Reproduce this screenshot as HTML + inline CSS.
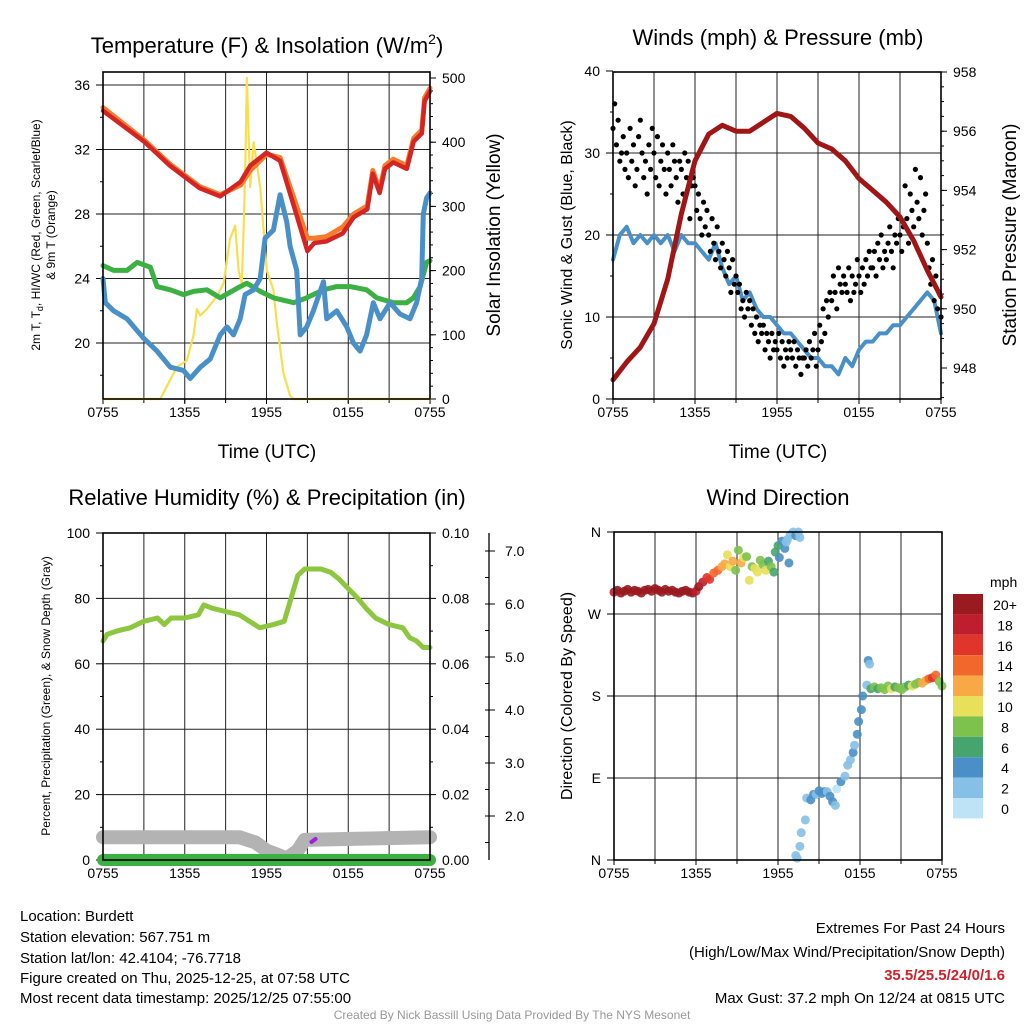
<!DOCTYPE html>
<html><head><meta charset="utf-8"><style>
html,body{margin:0;padding:0;background:#fff;}
svg{display:block;font-family:"Liberation Sans",Arial,sans-serif;}
</style></head><body>
<svg id="chart" xmlns="http://www.w3.org/2000/svg" width="1024" height="1024" viewBox="0 0 1024 1024">
<rect x="0" y="0" width="1024" height="1024" fill="#fff"/>
<text x="267" y="53" font-size="22" text-anchor="middle">Temperature (F) &amp; Insolation (W/m<tspan font-size="14" dy="-9">2</tspan><tspan dy="9">)</tspan></text>
<text x="778" y="45" font-size="22" text-anchor="middle">Winds (mph) &amp; Pressure (mb)</text>
<text x="267" y="505" font-size="22" text-anchor="middle">Relative Humidity (%) &amp; Precipitation (in)</text>
<text x="778" y="505" font-size="22" text-anchor="middle">Wind Direction</text>

<text transform="translate(40,235) rotate(-90)" font-size="12" text-anchor="middle">2m T, T<tspan font-size="9" dy="3">d</tspan><tspan dy="-3">, HI/WC (Red, Green, Scarlet/Blue)</tspan></text>
<text transform="translate(55,235) rotate(-90)" font-size="12" text-anchor="middle">&amp; 9m T (Orange)</text>
<text transform="translate(500,235) rotate(-90)" font-size="19" text-anchor="middle">Solar Insolation (Yellow)</text>
<text transform="translate(572,235) rotate(-90)" font-size="16" text-anchor="middle">Sonic Wind &amp; Gust (Blue, Black)</text>
<text transform="translate(1016,235) rotate(-90)" font-size="19" text-anchor="middle">Station Pressure (Maroon)</text>
<text transform="translate(50,696) rotate(-90)" font-size="12" text-anchor="middle">Percent, Precipitation (Green), &amp; Snow Depth (Gray)</text>
<text transform="translate(572,696) rotate(-90)" font-size="16" text-anchor="middle">Direction (Colored By Speed)</text>

<text x="267" y="458" font-size="19" text-anchor="middle">Time (UTC)</text>
<text x="778" y="458" font-size="19" text-anchor="middle">Time (UTC)</text>

<g font-size="15">
<text x="20" y="921">Location: Burdett</text>
<text x="20" y="942">Station elevation: 567.751 m</text>
<text x="20" y="963">Station lat/lon: 42.4104; -76.7718</text>
<text x="20" y="983">Figure created on Thu, 2025-12-25, at 07:58 UTC</text>
<text x="20" y="1003">Most recent data timestamp: 2025/12/25 07:55:00</text>
</g>
<g font-size="15" text-anchor="end">
<text x="1005" y="933">Extremes For Past 24 Hours</text>
<text x="1005" y="957">(High/Low/Max Wind/Precipitation/Snow Depth)</text>
<text x="1005" y="980" fill="#d0202a" font-weight="bold">35.5/25.5/24/0/1.6</text>
<text x="1005" y="1003">Max Gust: 37.2 mph On 12/24 at 0815 UTC</text>
</g>
<text x="512" y="1019" font-size="12" fill="#999" text-anchor="middle">Created By Nick Bassill Using Data Provided By The NYS Mesonet</text>
<g id="plots"></g>
</svg>
<script>
// ---------- data ----------
const xTickHours = [0, 6, 12, 18, 24];
const xTickLabels = ['0755', '1355', '1955', '0155', '0755'];

const tempHours = [0,3,4.9,7.1,8.6,10.1,10.8,12,13,14,15,15.5,16.4,17.6,18.4,19.4,19.8,20.3,20.7,21.3,22.3,22.8,23.4,23.6,24];
const tempRed = [34.4,32.5,31.0,29.6,29.1,30.0,31.0,31.8,31.3,28.5,25.7,26.2,26.3,26.8,27.8,28.3,30.5,29.3,30.8,31.2,30.8,32.5,33.0,35.0,35.6];
const tempOrange = [34.6,32.6,31.1,29.7,29.2,29.8,30.7,31.7,31.5,29.0,26.5,26.5,26.6,27.2,28.0,28.5,30.7,29.5,31.0,31.4,31.0,32.7,33.2,35.2,35.8];
const blueHours = [0,0.17,0.78,1.76,2.98,3.96,4.94,5.91,6.4,7.14,7.87,8.6,9.09,9.58,10.07,10.43,11.05,11.54,11.9,12.51,13,13.49,13.73,14.22,14.47,14.95,15.44,16.18,16.42,17.16,17.89,18.38,18.87,19.35,19.84,20.33,21.07,21.8,22.53,23.02,23.39,23.51,23.75,24];
const tempBlue = [24,22.5,22.0,21.5,20.3,19.5,18.5,18.3,17.8,18.5,19.0,20.5,21.0,20.5,21.5,23.0,23.3,24.0,26.5,27.0,29.2,27.5,26.0,24.5,20.5,21.0,22.0,23.8,21.5,22.0,21.0,20.0,19.5,20.5,22.5,21.5,22.5,21.8,21.5,22.5,24.0,28.0,29.0,29.3];
const greenHours = [0,0.78,1.76,2.5,3.47,3.96,4.94,5.91,6.65,7.62,8.6,10.07,10.56,11.54,12.51,14,14.95,16.18,17.16,18.14,19.35,20.09,21.3,22.29,22.78,23.27,23.75,24];
const tempGreen = [24.8,24.5,24.5,25.0,24.7,23.5,23.3,23.0,23.2,23.3,22.8,23.5,23.7,23.2,22.8,22.5,22.8,23.3,23.5,23.5,23.3,22.8,22.5,22.5,22.8,23.5,25.0,25.1];
const solarHours = [0,4.2,4.94,5.43,6.16,6.65,6.89,7.14,7.62,8.36,8.85,9.33,9.7,9.95,10.19,10.31,10.43,10.56,10.8,11.05,11.54,12.02,12.51,12.75,13.24,13.73,13.98,24];
const solarVals = [0,0,30,50,60,100,140,130,140,160,180,250,270,200,180,260,350,500,330,400,330,200,170,120,40,5,0,0];

const windHalfHourly = [17,20,21,19,20,19,20,19,20,18,20,19,19,18,17,19,16,14,15,12,13,11,10,10,9,8,8,7,6,5,5,4,4,3,5,4,6,7,7,8,8,9,9,10,11,12,13,12,8];
const gustEighthHourly = [33,36,31,34,29,30,32,28, 30,27,33,29,31,26,28,32, 34,30,27,29,25,31,28,33, 30,27,32,26,29,31,28,25,
 30,28,26,31,29,27,24,29, 28,25,30,27,29,22,26,27, 26,23,25,22,20,24,21,23, 20,18,22,19,17,21,18,16,
 19,17,15,18,16,13,17,14, 15,13,14,11,12,10,13,11, 12,9,11,8,10,7,9,8, 9,6,8,7,5,8,6,7,
 6,8,5,7,4,6,5,7, 6,5,7,4,6,5,3,5, 5,6,4,7,5,6,8,4, 6,9,7,11,8,12,10,13,
 12,15,13,11,16,14,13,15, 14,13,16,12,15,13,14,17, 15,13,16,14,17,15,18,16, 16,18,15,19,17,20,16,18,
 17,19,21,18,16,20,19,22, 20,18,21,26,22,19,25,23, 21,28,24,22,27,20,23,25, 19,16,14,17,12,15,11,13,10];
const pressHourly = [947.6,948.2,948.7,949.5,951.0,953.2,955.0,955.9,956.2,956.0,956.0,956.3,956.6,956.5,956.1,955.6,955.4,955.0,954.4,954.0,953.6,953.1,952.3,951.3,950.4];

const rhHours = [0,0.3,1,2,3,4,4.5,5,6,7,7.4,8,9,10,11.5,12.5,13.3,13.8,14.3,14.8,16,16.7,17.3,18,18.7,19.3,20,21,22,22.5,23,23.5,24];
const rhVals = [67,69,70,71,73,74,72,74,74,75,78,77,76,75,71,72,73,80,87,89,89,88,86,83,80,77,74,72,71,68,67,65,65];
const precipHours = [0,24];
const precipVals = [0,0];
const snowHours = [0,10,11.2,12,13,13.5,14.3,14.8,24];
const snowVals = [1.6,1.6,1.5,1.35,1.25,1.2,1.35,1.55,1.6];

const dirHours = [0,0.25,0.5,0.75,1,1.25,1.5,1.75,2,2.25,2.5,2.75,3,3.25,3.5,3.75,4,4.25,4.5,4.75,5,5.25,5.5,5.75,6,
 6.2,6.5,6.8,7.0,7.3,7.6,7.9,8.1,
 8.3,8.5,8.7,8.9,9.1,9.3,9.5,9.7,9.9,10.1,10.3,10.5,10.7,10.9,11.1,11.3,11.5,11.7,
 11.8,12.0,12.1,12.3,12.5,12.6,12.8,
 12.7,12.9,13.1,13.3,13.5,13.6,
 13.3,13.4,13.6,13.7,14.0,
 14.1,14.4,14.6,14.8,15.0,15.2,15.4,15.6,15.8,16.0,16.2,16.3,
 16.6,16.9,17.1,17.3,17.5,17.6,17.8,17.9,18.1,18.2,18.5,18.6,18.7,
 18.8,19.05,19.3,19.55,19.8,20.05,20.3,20.55,20.8,21.05,21.3,21.55,21.8,22.05,22.3,22.55,22.8,23.05,23.3,23.55,23.8,24];
const dirDeg = [294,296,293,295,297,294,296,295,293,296,297,295,298,296,294,297,295,296,294,293,295,296,294,293,295,
 300,305,310,308,315,318,322,325,
 335,322,328,318,340,326,332,333,307,322,320,316,329,324,318,328,322,316,
 338,345,332,350,342,349,326,
 352,357,360,356,360,354,
 5,2,15,30,44,
 68,66,72,72,76,73,75,75,70,64,60,78,
 86,92,104,110,118,126,138,152,165,180,192,219,215,
 188,190,188,189,187,191,188,190,189,187,190,192,191,193,195,194,197,199,200,203,196,191];
const dirSpeed = [19,21,20,22,21,20,21,22,20,21,20,21,22,21,20,21,20,22,21,20,21,20,21,20,19,
 20,18,17,16,15,14,13,12,
 11,10,12,9,8,12,10,9,10,8,11,10,8,9,10,7,8,7,
 6,6,5,4,4,3,4,
 3,2,3,4,3,2,
 2,2,2,2,2,
 3,4,4,3,4,5,4,3,4,4,3,1,
 4,3,2,3,4,2,4,4,4,4,3,4,3,
 6,8,7,8,9,8,10,7,8,9,8,7,10,8,9,12,13,15,17,14,8,8];
const speedLabels = ['0','2','4','6','8','10','12','14','16','18','20+'];
const speedColors = ['#bfe3f6','#86c0e6','#4a8fc7','#46a56e','#7dc24d','#e8e05a','#f8a845','#f2672b','#e0352a','#be1e2d','#991a1f'];

// ---------- drawing ----------
const NS = 'http://www.w3.org/2000/svg';
const root = document.getElementById('plots');
function mk(tag, parent) { const e = document.createElementNS(NS, tag); parent.appendChild(e); return e; }
function set(e, o) { for (const k in o) e.setAttribute(k, o[k]); return e; }
function lin(a0, a1, p0, p1) { return v => p0 + (v - a0) / (a1 - a0) * (p1 - p0); }
function pathD(xs, ys, fx, fy) { return xs.map((h, i) => (i ? 'L' : 'M') + fx(h).toFixed(1) + ',' + fy(ys[i]).toFixed(1)).join(''); }

function drawFrame(g, L, R, T, B, fx, leftTicks, leftLabels, fyL, rightTicks, rightLabels, fyR, minorL, minorR) {
  for (let h = 3; h < 24; h += 3) {
    const e = set(mk('line', g), {x1: fx(h), x2: fx(h), y1: T, y2: B, stroke: '#222', 'stroke-width': 1});
    
    
  }
  leftTicks.forEach((v, i) => {
    const y = fyL(v);
    if (y > T + 1 && y < B - 1) {
      const gl = set(mk('line', g), {x1: L, x2: R, y1: y, y2: y, stroke: '#222', 'stroke-width': 1});
      
      
    }
    const tk = set(mk('line', g), {x1: L - 7, x2: L, y1: y, y2: y, stroke: '#000', 'stroke-width': 1});
    
    
    const t = set(mk('text', g), {x: L - 13, y: y + 5, 'font-size': 14, 'text-anchor': 'end'});
    t.textContent = leftLabels[i];
    
    
  });
  (minorL || []).forEach(v => {
    const y = fyL(v);
    const m = set(mk('line', g), {x1: L - 3, x2: L, y1: y, y2: y, stroke: '#000', 'stroke-width': 1});
    
    
  });
  if (rightTicks) {
    rightTicks.forEach((v, i) => {
      const y = fyR(v);
      const tk = set(mk('line', g), {x1: R, x2: R + 6, y1: y, y2: y, stroke: '#000', 'stroke-width': 1});
      
      
      const t = set(mk('text', g), {x: R + 12, y: y + 5, 'font-size': 14});
      t.textContent = rightLabels[i];
      
      
    });
    (minorR || []).forEach(v => {
      const y = fyR(v);
      const m = set(mk('line', g), {x1: R, x2: R + 3, y1: y, y2: y, stroke: '#000', 'stroke-width': 1});
      
      
    });
  }
  xTickHours.forEach((h, i) => {
    const x = fx(h);
    const tk = set(mk('line', g), {x1: x, x2: x, y1: B, y2: B + 5, stroke: '#000', 'stroke-width': 1});
    
    
    const t = set(mk('text', g), {x: x, y: B + 18, 'font-size': 14, 'text-anchor': 'middle'});
    t.textContent = xTickLabels[i];
    
    
  });
  for (let h = 3; h < 24; h += 3) {
    const m = set(mk('line', g), {x1: fx(h), x2: fx(h), y1: B, y2: B + 4, stroke: '#000', 'stroke-width': 1});
    
    
  }
}
function frameBox(g, L, R, T, B) {
  const r = set(mk('rect', g), {x: L, y: T, width: R - L, height: B - T, fill: 'none', stroke: '#000', 'stroke-width': 1.6});
  
  
}
function series(g, xs, ys, fx, fy, color, w, name) {
  const p = set(mk('path', g), {d: pathD(xs, ys, fx, fy), fill: 'none', stroke: color, 'stroke-width': w, 'stroke-linejoin': 'round', 'stroke-linecap': 'round'});
  
  
  return p;
}
function range(a, b, s) { const r = []; for (let v = a; v <= b + 1e-9; v += s) r.push(+v.toFixed(4)); return r; }

// Panel 1
(function () {
  const L = 103, R = 430, T = 72, B = 399;
  const g = mk('g', root);
  
  
  const fx = lin(0, 24, L, R);
  const fy = lin(20, 36, 343, 85);
  const fs = lin(0, 500, 399, 78);
  drawFrame(g, L, R, T, B, fx, [20, 24, 28, 32, 36], ['20', '24', '28', '32', '36'], fy,
    [0, 100, 200, 300, 400, 500], ['0', '100', '200', '300', '400', '500'], fs, range(18, 34, 4), range(20, 500, 20));
  series(g, solarHours, solarVals, fx, fs, '#f7df4f', 2.2, 'solar-insolation-line');
  series(g, greenHours, tempGreen, fx, fy, '#3cb043', 5, 'dewpoint-line');
  series(g, blueHours, tempBlue, fx, fy, '#4a90c8', 5, 'wind-chill-line');
  series(g, tempHours, tempOrange, fx, fy, '#f47c2c', 5, 'temp-9m-line');
  series(g, tempHours, tempRed, fx, fy, '#d42424', 4.5, 'temp-2m-line');
  frameBox(g, L, R, T, B);
})();

// Panel 2
(function () {
  const L = 613, R = 941, T = 72, B = 399;
  const g = mk('g', root);
  
  
  const fx = lin(0, 24, L, R);
  const fy = lin(0, 40, 399, 71);
  const fp = lin(948, 958, 368, 72);
  drawFrame(g, L, R, T, B, fx, [0, 10, 20, 30, 40], ['0', '10', '20', '30', '40'], fy,
    [948, 950, 952, 954, 956, 958], ['948', '950', '952', '954', '956', '958'], fp, range(5, 35, 10), range(947, 958, 0.5));
  const wh = windHalfHourly.map((v, i) => i * 0.5);
  series(g, wh, windHalfHourly, fx, fy, '#4a90c8', 4, 'sustained-wind-line');
  gustEighthHourly.forEach((v, i) => {
    const c = set(mk('circle', g), {cx: fx(i / 8), cy: fy(v), r: 2.6, fill: '#000'});
    
    
  });
  const ph = pressHourly.map((v, i) => i);
  series(g, ph, pressHourly, fx, fp, '#a01515', 5, 'pressure-line');
  frameBox(g, L, R, T, B);
})();

// Panel 3
(function () {
  const L = 103, R = 430, T = 533, B = 860;
  const g = mk('g', root);
  
  
  const fx = lin(0, 24, L, R);
  const fy = lin(0, 100, B, T);
  const fpr = lin(0, 0.1, B, T);
  const fsn = lin(2, 7, 816, 551);
  drawFrame(g, L, R, T, B, fx, [0, 20, 40, 60, 80, 100], ['0', '20', '40', '60', '80', '100'], fy,
    [0, 0.02, 0.04, 0.06, 0.08, 0.1], ['0.00', '0.02', '0.04', '0.06', '0.08', '0.10'], fpr, range(10, 90, 20), range(0.01, 0.09, 0.02));
  const ax = 489;
  const al = set(mk('line', g), {x1: ax, x2: ax, y1: T, y2: B, stroke: '#000', 'stroke-width': 1.3});
  
  
  [2, 3, 4, 5, 6, 7].forEach(v => {
    const y = fsn(v);
    const tk = set(mk('line', g), {x1: ax, x2: ax + 6, y1: y, y2: y, stroke: '#000'});
    
    
    const t = set(mk('text', g), {x: ax + 16, y: y + 5, 'font-size': 14});
    t.textContent = v.toFixed(1);
    
    
  });
  range(1.5, 7, 0.5).forEach(v => {
    const y = fsn(v);
    const m = set(mk('line', g), {x1: ax - 4, x2: ax, y1: y, y2: y, stroke: '#000'});
    
    
  });
  series(g, snowHours, snowVals, fx, fsn, '#b3b3b3', 14, 'snow-depth-line');
  series(g, precipHours, precipVals, fx, fpr, '#3cb043', 12, 'precipitation-line');
  const pu = set(mk('line', g), {x1: fx(15.3), x2: fx(15.6), y1: 842, y2: 839, stroke: '#a020e0', 'stroke-width': 4, 'stroke-linecap': 'round'});
  
  
  series(g, rhHours, rhVals, fx, fy, '#8dc63f', 5, 'relative-humidity-line');
  frameBox(g, L, R, T, B);
})();

// Panel 4
(function () {
  const L = 614, R = 942, T = 532, B = 860;
  const g = mk('g', root);
  
  
  const fx = lin(0, 24, L, R);
  const fy = lin(0, 360, B, T);
  drawFrame(g, L, R, T, B, fx, [0, 90, 180, 270, 360], ['N', 'E', 'S', 'W', 'N'], fy, null, null, null, [], []);
  dirHours.forEach((h, i) => {
    const idx = Math.min(10, Math.max(0, Math.floor(dirSpeed[i] / 2)));
    const c = set(mk('circle', g), {cx: fx(h), cy: fy(dirDeg[i]), r: 4.5, fill: speedColors[idx], 'fill-opacity': 0.9});
    
    
  });
  frameBox(g, L, R, T, B);
  const lg = mk('g', root);
  
  
  const lt = set(mk('text', lg), {x: 990, y: 587, 'font-size': 14});
  lt.textContent = 'mph';
  
  
  for (let i = 10; i >= 0; i--) {
    const y = 594 + (10 - i) * 20.4;
    const r = set(mk('rect', lg), {x: 953, y: y, width: 30, height: 20.4, fill: speedColors[i]});
    
    
    const t = set(mk('text', lg), {x: 1005, y: y + 16, 'font-size': 14, 'text-anchor': 'middle'});
    t.textContent = speedLabels[i];
    
    
  }
})();
</script>
</body></html>
